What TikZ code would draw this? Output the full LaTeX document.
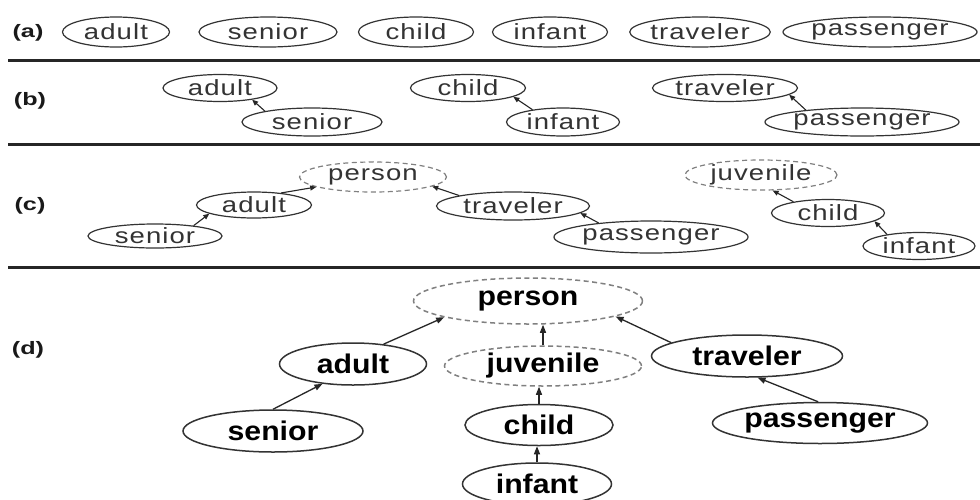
\documentclass[tikz,border=0pt]{standalone}
\usepackage{fontspec}
\usetikzlibrary{shapes.geometric,arrows.meta}
\newfontfamily\thinf[FakeStretch=1.25,LetterSpace=5]{Liberation Sans}
\newfontfamily\boldf[FakeStretch=1.12]{Liberation Sans Bold}
\newfontfamily\labf[FakeStretch=1.4]{Liberation Sans Bold}
\tikzset{
  sz/.style 2 args={minimum width=#1pt, minimum height=#2pt},
  el/.style={ellipse, draw=black!80, line width=1.2pt, inner sep=0pt, text=black!80,
    font=\thinf\fontsize{22}{22}\selectfont},
  eld/.style={ellipse, draw=black!80, line width=1.5pt, inner sep=0pt, text=black,
    font=\boldf\fontsize{27}{27}\selectfont},
  dsh/.style={draw=black!50, dash pattern=on 5pt off 3.5pt},
  arr/.style={-{Triangle[length=6pt,width=5pt]}, line width=1.1pt, draw=black!85},
  arrd/.style={-{Triangle[length=8pt,width=6pt]}, line width=1.3pt, draw=black!85},
  lab/.style={font=\labf\fontsize{18}{18}\selectfont, text=black!90, inner sep=0pt},
  sepline/.style={line width=3pt, draw=black!85}
}
\begin{document}
\begin{tikzpicture}[x=1pt,y=-1pt]
\clip (0,0) rectangle (980,499);
\fill[white] (0,0) rectangle (980,499);
% separators
\draw[sepline] (8,60) -- (980,60);
\draw[sepline] (8,144) -- (980,144);
\draw[sepline] (8,267) -- (980,267);
% labels
\node[lab] (la) at (28,33) {(a)};
\node[lab] (lb) at (30,101) {(b)};
\node[lab] (lc) at (30,206) {(c)};
\node[lab] (ld) at (28,350) {(d)};
% row a
\node[el, sz={107}{30}] (aAdult) at (116,32) {adult};
\node[el, sz={138}{30}] (aSenior) at (268,32) {senior};
\node[el, sz={115}{30}] (aChild) at (416,32) {child};
\node[el, sz={115}{30}] (aInfant) at (550,32) {infant};
\node[el, sz={140}{30}] (aTraveler) at (700,32) {traveler};
\node[el, sz={194}{30}] (aPassenger) at (880,32) {passenger};
% row b
\node[el, sz={114}{27}] (bAdult) at (220,88) {adult};
\node[el, sz={140}{28}] (bSenior) at (312,122) {senior};
\node[el, sz={115}{27}] (bChild) at (468,88) {child};
\node[el, sz={113}{28}] (bInfant) at (563,122) {infant};
\node[el, sz={145}{27}] (bTraveler) at (725,88) {traveler};
\node[el, sz={190}{28}] (bPassenger) at (862,122) {passenger};
\draw[arr] (bSenior.167) -- (bAdult.340);
\draw[arr] (bInfant.158) -- (bChild.349);
\draw[arr] (bPassenger.168) -- (bTraveler.354);
% row c
\node[el, dsh, sz={147}{30}] (cPerson) at (373,177) {person};
\node[el, sz={115}{26}] (cAdult) at (254,205) {adult};
\node[el, sz={134}{24}] (cSenior) at (155,236) {senior};
\node[el, sz={153}{28}] (cTraveler) at (513,206) {traveler};
\node[el, sz={192}{32}] (cPassenger) at (651,237) {passenger};
\node[el, dsh, sz={152}{30}] (cJuvenile) at (761,175) {juvenile};
\node[el, sz={113}{27}] (cChild) at (828,213) {child};
\node[el, sz={112}{27}] (cInfant) at (919,246) {infant};
\draw[arr] (cSenior.15) -- (cAdult.191);
\draw[arr] (cAdult.24) -- (cPerson.190);
\draw[arr] (cTraveler.169) -- (cPerson.351);
\draw[arr] (cPassenger.165) -- (cTraveler.354);
\draw[arr] (cChild.162) -- (cJuvenile.307);
\draw[arr] (cInfant.160) -- (cChild.350);
% row d
\node[eld, dsh, sz={229}{46}] (dPerson) at (528,301) {person};
\node[eld, dsh, sz={197}{40}] (dJuvenile) at (543,366) {juvenile};
\node[eld, sz={147}{42}] (dAdult) at (353,364) {adult};
\node[eld, sz={180}{42}] (dSenior) at (273,431) {senior};
\node[eld, sz={191}{42}] (dTraveler) at (747,356) {traveler};
\node[eld, sz={215}{41}] (dPassenger) at (820,423) {passenger};
\node[eld, sz={148}{41}] (dChild) at (539,425) {child};
\node[eld, sz={149}{42}] (dInfant) at (537,484) {infant};
\draw[arrd] (dSenior.north) -- (dAdult.213);
\draw[arrd] (dAdult.33) -- (dPerson.191);
\draw[arrd] (dTraveler.170) -- (dPerson.350);
\draw[arrd] (dPassenger.95) -- (dTraveler.296);
\draw[arrd] (dJuvenile.north) -- (dJuvenile.north |- dPerson.south);
\draw[arrd] (dChild.north) -- (dChild.north |- dJuvenile.south);
\draw[arrd] (dInfant.north) -- (dInfant.north |- dChild.south);
\end{tikzpicture}
\end{document}
